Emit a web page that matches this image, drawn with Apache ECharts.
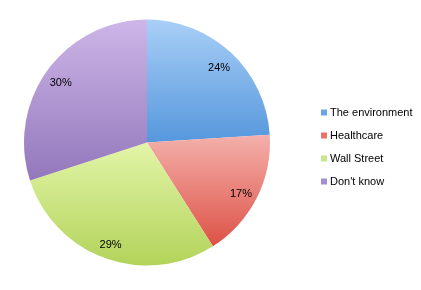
<!DOCTYPE html>
<html><head><meta charset="utf-8">
<script src="https://cdn.jsdelivr.net/npm/echarts@6/dist/echarts.min.js"></script>
<style>html,body{margin:0;padding:0;background:#fff}#c{width:421px;height:290px}</style>
</head><body><div id="c"></div>
<script>
var categories = ["The environment", "Healthcare", "Wall Street", "Don't know"];
var values = [24, 17, 29, 30];
var topColors = ["#a9cff7", "#f4b0ab", "#e3f5a8", "#cdb6e8"];
var bottomColors = ["#5697dc", "#dd5246", "#b2d35a", "#9377bb"];
var legendColors = ["#6aa5e6", "#e87169", "#c8e590", "#a78fcf"];

var chart = echarts.init(document.getElementById('c'), null, {renderer: 'canvas'});
var fillData = categories.map(function (n, i) {
  return {
    name: n, value: values[i],
    itemStyle: {color: new echarts.graphic.LinearGradient(0, 0, 0, 1, [
      {offset: 0, color: topColors[i]}, {offset: 1, color: bottomColors[i]}])}
  };
});
var labelData = categories.map(function (n, i) {
  return {name: n, value: values[i], itemStyle: {color: 'rgba(0,0,0,0)'}};
});
chart.setOption({
  animation: false,
  legend: {
    orient: 'vertical', left: 316, top: 102,
    itemWidth: 6, itemHeight: 6, itemGap: 12, icon: 'rect',
    textStyle: {fontFamily: 'Liberation Sans', fontSize: 11, color: '#000', padding: [0, 0, 0, -2]},
    data: categories.map(function (n, i) { return {name: n, itemStyle: {color: legendColors[i]}}; })
  },
  series: [{
    type: 'pie', center: [147, 142.5], radius: [0, 123], startAngle: 90, clockwise: true,
    data: fillData, label: {show: false}, labelLine: {show: false},
    itemStyle: {borderWidth: 0}, emphasis: {disabled: true}, silent: true
  }, {
    type: 'pie', center: [147, 142.5], radius: [83, 123], startAngle: 90, clockwise: true,
    data: labelData, labelLine: {show: false}, silent: true, emphasis: {disabled: true},
    itemStyle: {borderWidth: 0},
    label: {show: true, position: 'inside', formatter: '{c}%', color: '#000',
      fontFamily: 'Liberation Sans', fontSize: 11, offset: [-0.5, 3]}
  }]
});
</script></body></html>
